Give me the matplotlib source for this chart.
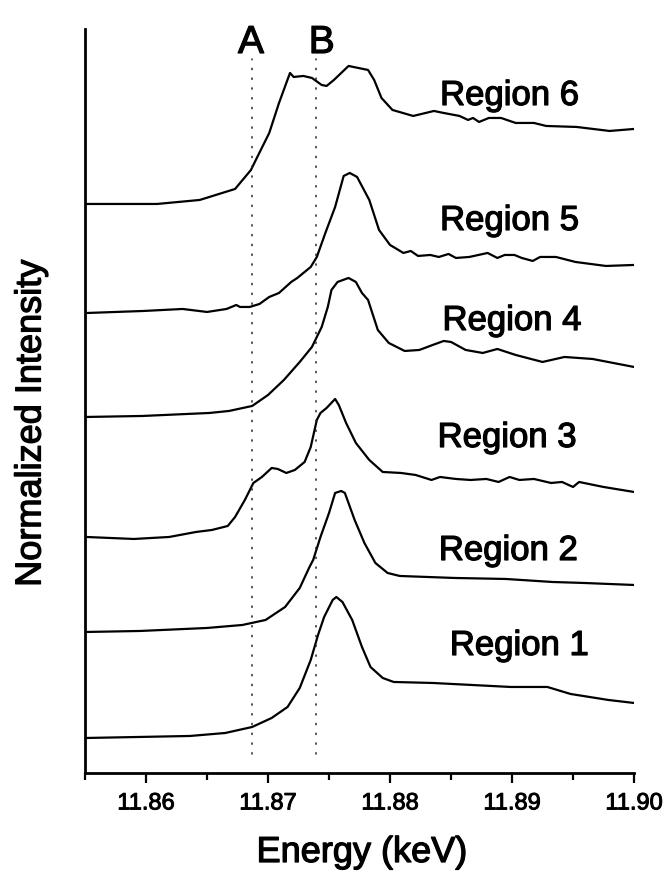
import matplotlib
matplotlib.use("Agg")
import matplotlib.pyplot as plt
import matplotlib.patheffects as pe
from matplotlib.ticker import MultipleLocator, FixedLocator

plt.rcParams['font.family'] = ['Liberation Sans', 'DejaVu Sans']

# XANES spectra of six regions, intensity relative to each pre-edge level
region_names = ["Region 1", "Region 2", "Region 3", "Region 4", "Region 5", "Region 6"]
offsets = [0.35, 1.41, 2.36, 3.56, 4.60, 5.69]

energy_r1 = [11.8551, 11.8594, 11.8636, 11.8665, 11.8687, 11.8703, 11.8716, 11.8726,
             11.8735, 11.8741, 11.8746, 11.8753, 11.8756, 11.8761, 11.8769, 11.8777,
             11.8784, 11.8794, 11.8803, 11.8835, 11.8867, 11.8899, 11.8929, 11.8948,
             11.8979, 11.9000]
intensity_r1 = [0.00, 0.01, 0.02, 0.05, 0.11, 0.20, 0.31, 0.50,
                0.78, 1.03, 1.21, 1.38, 1.41, 1.36, 1.18, 0.91,
                0.71, 0.60, 0.56, 0.55, 0.53, 0.51, 0.51, 0.44,
                0.38, 0.35]

energy_r2 = [11.8551, 11.8595, 11.8650, 11.8679, 11.8698, 11.8714, 11.8726, 11.8734,
             11.8737, 11.8743, 11.8750, 11.8755, 11.8760, 11.8763, 11.8771, 11.8779,
             11.8788, 11.8798, 11.8808, 11.8853, 11.8895, 11.8933, 11.8959, 11.9000]
intensity_r2 = [0.00, 0.01, 0.04, 0.07, 0.12, 0.25, 0.44, 0.65,
                0.72, 0.95, 1.19, 1.39, 1.41, 1.39, 1.12, 0.89,
                0.69, 0.59, 0.56, 0.54, 0.53, 0.50, 0.49, 0.47]

energy_r3 = [11.8551, 11.8590, 11.8619, 11.8641, 11.8654, 11.8667, 11.8673, 11.8681,
             11.8688, 11.8695, 11.8703, 11.8708, 11.8715, 11.8722, 11.8730, 11.8735,
             11.8740, 11.8743, 11.8748, 11.8755, 11.8758, 11.8764, 11.8772, 11.8783,
             11.8794, 11.8809, 11.8821, 11.8834, 11.8841, 11.8854, 11.8866, 11.8879,
             11.8889, 11.8898, 11.8906, 11.8918, 11.8932, 11.8941, 11.8950, 11.8955,
             11.8975, 11.9000]
intensity_r3 = [0.00, -0.02, 0.00, 0.05, 0.07, 0.11, 0.20, 0.37,
                0.54, 0.60, 0.69, 0.68, 0.64, 0.67, 0.75, 0.90,
                1.17, 1.24, 1.29, 1.38, 1.32, 1.14, 0.94, 0.77,
                0.65, 0.64, 0.62, 0.57, 0.60, 0.58, 0.57, 0.58,
                0.55, 0.60, 0.57, 0.58, 0.54, 0.55, 0.50, 0.55,
                0.50, 0.45]

energy_r4 = [11.8551, 11.8597, 11.8652, 11.8668, 11.8687, 11.8700, 11.8713, 11.8726,
             11.8736, 11.8744, 11.8749, 11.8752, 11.8757, 11.8766, 11.8772, 11.8777,
             11.8782, 11.8790, 11.8799, 11.8812, 11.8824, 11.8835, 11.8844, 11.8850,
             11.8862, 11.8876, 11.8888, 11.8903, 11.8925, 11.8943, 11.8966, 11.9000]
intensity_r4 = [0.00, 0.01, 0.04, 0.06, 0.11, 0.22, 0.37, 0.55,
                0.70, 0.90, 1.10, 1.27, 1.35, 1.39, 1.35, 1.24,
                1.17, 0.87, 0.74, 0.66, 0.67, 0.72, 0.76, 0.75,
                0.67, 0.64, 0.68, 0.62, 0.55, 0.60, 0.58, 0.50]

energy_r5 = [11.8552, 11.8598, 11.8630, 11.8650, 11.8666, 11.8674, 11.8677, 11.8685,
             11.8693, 11.8701, 11.8709, 11.8719, 11.8724, 11.8735, 11.8740, 11.8747,
             11.8755, 11.8762, 11.8767, 11.8773, 11.8783, 11.8791, 11.8800, 11.8811,
             11.8817, 11.8823, 11.8833, 11.8840, 11.8848, 11.8854, 11.8865, 11.8880,
             11.8888, 11.8894, 11.8902, 11.8908, 11.8917, 11.8923, 11.8936, 11.8952,
             11.8977, 11.9000]
intensity_r5 = [0.00, 0.02, 0.04, 0.01, 0.04, 0.08, 0.06, 0.06,
                0.09, 0.16, 0.20, 0.31, 0.35, 0.46, 0.56, 0.80,
                1.06, 1.37, 1.40, 1.36, 1.13, 0.83, 0.68, 0.60,
                0.62, 0.57, 0.58, 0.56, 0.59, 0.55, 0.56, 0.60,
                0.55, 0.58, 0.58, 0.55, 0.52, 0.56, 0.56, 0.51,
                0.47, 0.48]

energy_r6 = [11.8550, 11.8609, 11.8644, 11.8673, 11.8686, 11.8690, 11.8701, 11.8709,
             11.8718, 11.8721, 11.8729, 11.8736, 11.8744, 11.8748, 11.8754, 11.8766,
             11.8774, 11.8782, 11.8787, 11.8793, 11.8802, 11.8819, 11.8836, 11.8844,
             11.8857, 11.8864, 11.8868, 11.8873, 11.8881, 11.8891, 11.8903, 11.8918,
             11.8928, 11.8953, 11.8980, 11.9000]
intensity_r6 = [0.00, 0.00, 0.04, 0.15, 0.34, 0.44, 0.71, 1.01,
                1.31, 1.27, 1.28, 1.26, 1.19, 1.18, 1.24, 1.38,
                1.36, 1.34, 1.24, 1.06, 0.94, 0.88, 0.93, 0.91,
                0.88, 0.84, 0.86, 0.82, 0.86, 0.86, 0.81, 0.81,
                0.78, 0.77, 0.73, 0.75]

energies = [energy_r1, energy_r2, energy_r3, energy_r4, energy_r5, energy_r6]
intensities = [intensity_r1, intensity_r2, intensity_r3, intensity_r4, intensity_r5, intensity_r6]

# Reference energies of the two edge features
feature_names = ["A", "B"]
feature_energies = [11.8687, 11.8739]

xtick_values = [11.86, 11.87, 11.88, 11.89, 11.90]
xtick_labels = ["11.86", "11.87", "11.88", "11.89", "11.90"]

# slightly heavier glyphs for all lettering
heavy = [pe.withStroke(linewidth=0.9, foreground="black")]

fig = plt.figure(figsize=(6.69, 8.75), dpi=100)
ax = fig.add_axes([0.1271, 0.1166, 0.8206, 0.8503])

for e, inten, off in zip(energies, intensities, offsets):
    ax.plot(e, [v + off for v in inten], color="black", lw=1.6,
            solid_joinstyle="round", solid_capstyle="round")

# dotted guide lines with their letters
for name, e, dx in zip(feature_names, feature_energies, [-0.0001, 0.0005]):
    ax.plot([e, e], [0.19, 7.14], color="#222222", lw=1.1,
            linestyle=(0, (0.8, 5.6)), dash_capstyle="round")
    ax.text(e + dx, 7.30, name, fontsize=28, ha="center", va="center",
            path_effects=heavy)

# region labels: (energy, height) of each baseline-left text anchor
label_pos = [(11.8849, 1.18), (11.8840, 2.13), (11.8839, 3.26),
             (11.8843, 4.43), (11.8841, 5.43), (11.8841, 6.68)]
for name, (lx, ly) in zip(region_names, label_pos):
    ax.text(lx, ly, name, fontsize=25, ha="left", va="baseline",
            path_effects=heavy)

ax.set_xlim(11.855, 11.90)
ax.set_ylim(0, 7.44)

for side in ["top", "right"]:
    ax.spines[side].set_visible(False)
for side in ["left", "bottom"]:
    ax.spines[side].set_linewidth(2.0)

ax.xaxis.set_major_locator(FixedLocator(xtick_values))
ax.set_xticklabels(xtick_labels, fontsize=17)
for lbl in ax.get_xticklabels():
    lbl.set_path_effects([pe.withStroke(linewidth=0.7, foreground="black")])
ax.xaxis.set_minor_locator(MultipleLocator(0.005))
ax.tick_params(axis="x", which="major", direction="out", length=7, width=1.6, pad=7)
ax.tick_params(axis="x", which="minor", direction="out", length=5, width=1.6)
ax.set_yticks([])

fig.text(362 / 669, (875 - 862) / 875, "Energy (keV)", fontsize=26,
         ha="center", va="baseline", path_effects=heavy)
fig.text(31 / 669, 0.516, "Normalized Intensity", fontsize=26,
         rotation=90, ha="center", va="center", path_effects=heavy)

fig.savefig("out.png", dpi=100)
